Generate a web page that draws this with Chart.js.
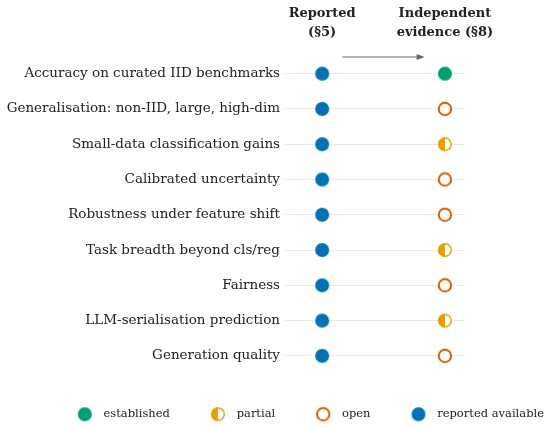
<!DOCTYPE html>
<html>
<head>
<meta charset="utf-8">
<script src="https://cdn.jsdelivr.net/npm/chart.js@4"></script>
<style>
  html, body { margin: 0; padding: 0; background: #fff; }
  #wrap { width: 550px; height: 428px; position: relative; }
</style>
</head>
<body>
<div id="wrap"><canvas id="chart"></canvas></div>
<script>
// Critérios avaliados (linhas, de cima para baixo)
const criteria = [
    "Accuracy on curated IID benchmarks",
    "Generalisation: non-IID, large, high-dim",
    "Small-data classification gains",
    "Calibrated uncertainty",
    "Robustness under feature shift",
    "Task breadth beyond cls/reg",
    "Fairness",
    "LLM-serialisation prediction",
    "Generation quality"
];

// Status de cada critério: coluna "Reported" e coluna "Independent evidence"
const reported = ["available", "available", "available", "available", "available",
                  "available", "available", "available", "available"];
const evidence = ["established", "open", "partial", "open", "open",
                  "partial", "open", "partial", "open"];

// Colunas (eixo x) e seus títulos
const columnValues = [0, 1];
const columnLabels = [["Reported", "(§5)"], ["Independent", "evidence (§8)"]];

// Ordem da legenda
const statusOrder = ["established", "partial", "open"];
const statusNames = { established: "established", partial: "partial", open: "open", available: "reported available" };

const SERIF = "'DejaVu Serif', 'Liberation Serif', serif";
const COLORS = {
    established: "#009E73",
    partial: "#E69F00",
    open: "#D55E00",
    available: "#0072B2"
};

// marcadores desenhados num canvas (usados no gráfico e na legenda)
function marker(kind, color) {
    const c = document.createElement("canvas");
    c.width = 16; c.height = 16;
    const g = c.getContext("2d");
    const r = 6.6;
    if (kind === "filled") {
        g.fillStyle = color;
        g.beginPath(); g.arc(8, 8, 7, 0, Math.PI * 2); g.fill();
    } else if (kind === "half") {
        g.fillStyle = "#fff";
        g.beginPath(); g.arc(8, 8, r, 0, Math.PI * 2); g.fill();
        g.fillStyle = color;
        g.beginPath(); g.arc(8, 8, r, Math.PI / 2, Math.PI * 1.5); g.closePath(); g.fill();
        g.strokeStyle = color; g.lineWidth = 1.4;
        g.beginPath(); g.arc(8, 8, r - 0.3, 0, Math.PI * 2); g.stroke();
    } else {
        g.fillStyle = "#fff";
        g.beginPath(); g.arc(8, 8, r - 0.4, 0, Math.PI * 2); g.fill();
        g.strokeStyle = color; g.lineWidth = 2;
        g.beginPath(); g.arc(8, 8, r - 0.4, 0, Math.PI * 2); g.stroke();
    }
    return c;
}

const markerKind = { established: "filled", partial: "half", open: "ring", available: "filled" };

function makeDataset(status, column, statusList) {
    return {
        label: statusNames[status],
        data: criteria.filter((c, i) => statusList[i] === status).map(c => ({ x: column, y: c })),
        pointStyle: marker(markerKind[status], COLORS[status]),
        backgroundColor: COLORS[status],
        borderColor: COLORS[status],
        pointRadius: 7,
        xAxisID: "x",
        yAxisID: "y"
    };
}

const datasets = statusOrder.map(st => makeDataset(st, columnValues[1], evidence));
datasets.push(makeDataset("available", columnValues[0], reported));

// seta entre as duas colunas, acima da primeira linha
const arrowPlugin = {
    id: "arrow",
    afterDatasetsDraw(chart) {
        const ctx = chart.ctx;
        const xs = chart.scales.x;
        const x0 = xs.getPixelForValue(0.165);
        const x1 = xs.getPixelForValue(0.835);
        const y = chart.chartArea.top + 1;
        ctx.save();
        ctx.strokeStyle = "#666";
        ctx.fillStyle = "#666";
        ctx.lineWidth = 1.2;
        ctx.beginPath(); ctx.moveTo(x0, y); ctx.lineTo(x1 - 6, y); ctx.stroke();
        ctx.beginPath(); ctx.moveTo(x1, y); ctx.lineTo(x1 - 8, y - 3); ctx.lineTo(x1 - 8, y + 3); ctx.closePath(); ctx.fill();
        ctx.restore();
    }
};

new Chart(document.getElementById("chart"), {
    type: "scatter",
    data: { datasets: datasets },
    plugins: [arrowPlugin],
    options: {
        responsive: true,
        maintainAspectRatio: false,
        animation: false,
        layout: { padding: { top: 2, left: 0, right: -29, bottom: -2 } },
        plugins: {
            tooltip: { enabled: false },
            legend: {
                position: "bottom",
                align: "end",
                labels: {
                    usePointStyle: true,
                    pointStyleWidth: 26,
                    padding: 35,
                    color: "#222",
                    font: { family: SERIF, size: 11.5 }
                }
            }
        },
        scales: {
            x: {
                type: "linear",
                position: "top",
                min: -0.311,
                max: 1.164,
                afterBuildTicks: axis => { axis.ticks = columnValues.map(v => ({ value: v })); },
                afterFit: s => { s.height = 54; },
                grid: { display: false },
                border: { display: false },
                ticks: {
                    padding: 6,
                    maxRotation: 0,
                    color: "#222",
                    font: { family: SERIF, size: 13, weight: "bold", lineHeight: 1.45 },
                    callback: v => columnLabels[columnValues.indexOf(v)]
                }
            },
            y: {
                type: "category",
                labels: criteria,
                offset: true,
                afterFit: s => { s.width = 284; },
                grid: { color: "#e9e9e9", lineWidth: 1, drawTicks: false },
                border: { display: false },
                ticks: {
                    padding: 4,
                    color: "#222",
                    font: { family: SERIF, size: 13.5 }
                }
            },
            yr: {
                type: "linear",
                position: "right",
                display: true,
                grid: { display: false },
                border: { display: false },
                ticks: { display: false },
                afterFit: s => { s.width = 114; }
            }
        }
    }
});
</script>
</body>
</html>
